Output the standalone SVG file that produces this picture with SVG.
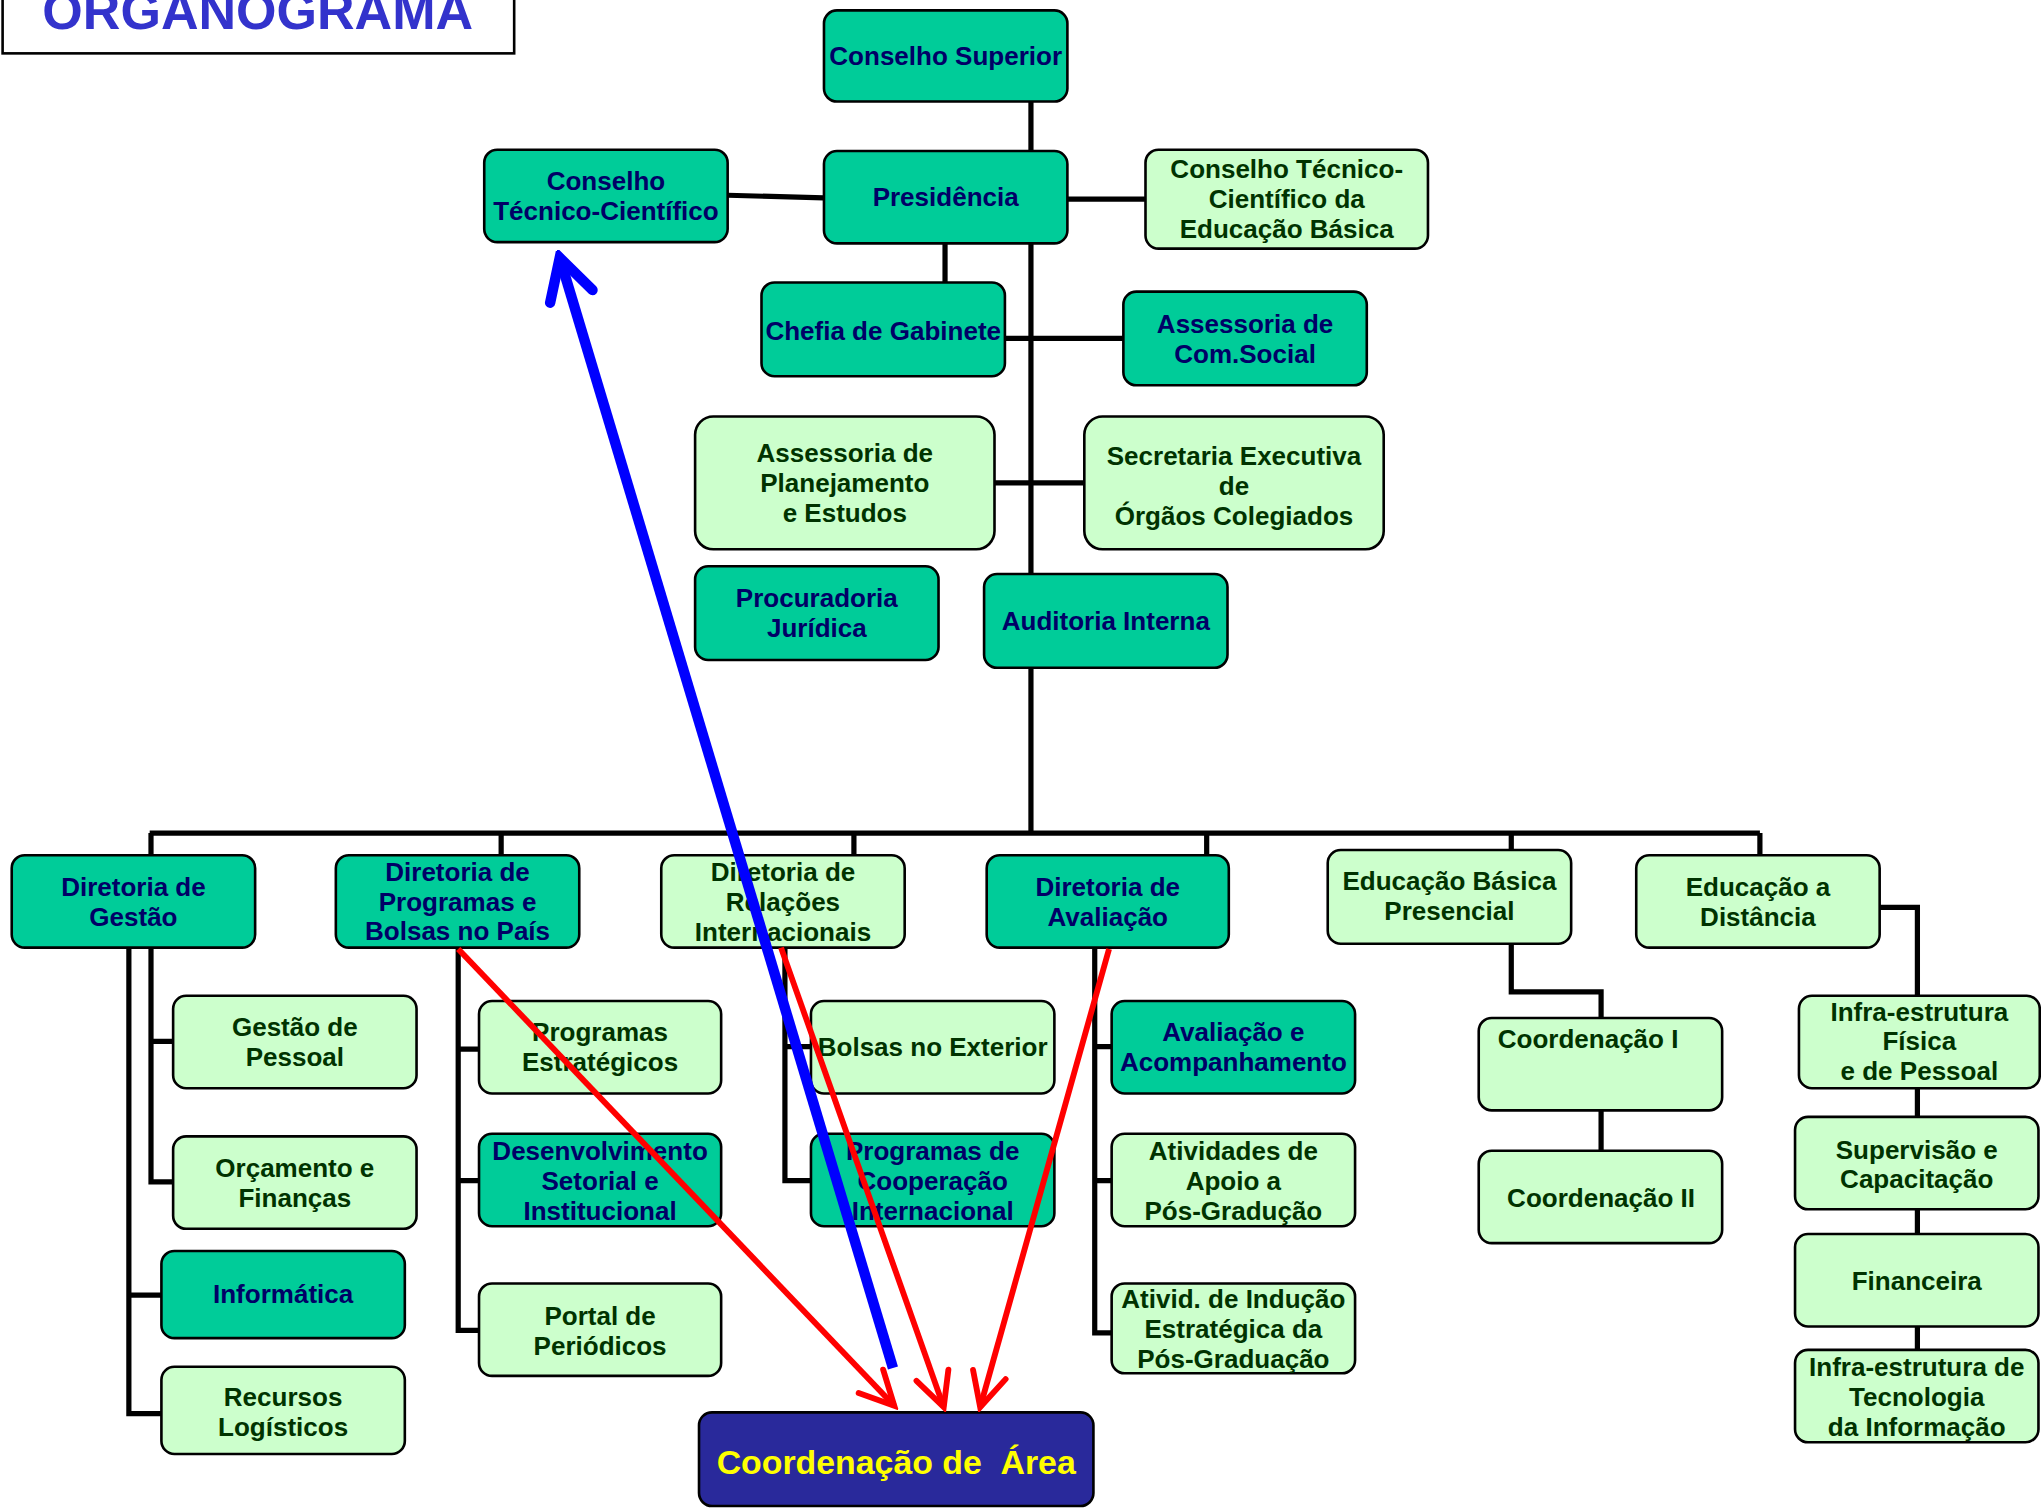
<svg xmlns="http://www.w3.org/2000/svg" width="2041" height="1508" viewBox="0 0 2041 1508">
<style>
text{font-family:"Liberation Sans",Arial,sans-serif;font-weight:bold;font-size:20px;text-anchor:middle}
.d rect{fill:#00cc99;stroke:#000;stroke-width:2}
.d text{fill:#000066}
.l rect{fill:#ccffcc;stroke:#000;stroke-width:2}
.l text{fill:#003300}
#connectors path{fill:none;stroke:#000;stroke-width:4}
.red{fill:none;stroke:#ff0000;stroke-width:4.5}
.blue{fill:none;stroke:#0000ff;stroke-width:8}
</style>
<defs>
<marker id="arR" viewBox="-32 -20 36 40" refX="0" refY="0" markerWidth="36" markerHeight="40" markerUnits="userSpaceOnUse" orient="auto">
<path d="M-26 -13 L0 0 L-26 13" fill="none" stroke="#ff0000" stroke-width="4.5" stroke-linecap="round"/>
</marker>
<marker id="arB" viewBox="-40 -26 46 52" refX="0" refY="0" markerWidth="46" markerHeight="52" markerUnits="userSpaceOnUse" orient="auto">
<path d="M-31 -17 L0 0 L-31 17" fill="none" stroke="#0000ff" stroke-width="8" stroke-linecap="round"/>
</marker>
</defs>
<rect width="2041" height="1508" fill="#fff"/>
<g transform="scale(1.3017)">
<g id="title">
<rect x="2" y="-30" width="393" height="71" fill="#fff" stroke="#000" stroke-width="2"/>
<text x="198" y="22" style="font-size:40px;fill:#3333cc">ORGANOGRAMA</text>
</g>
<g id="connectors">
<path d="M792 78V640"/>
<path d="M559 150L633 152"/>
<path d="M820 153H880"/>
<path d="M726 187V217"/>
<path d="M772 260H863"/>
<path d="M764 371H833"/>
<path d="M115 640H1352"/>
<path d="M116 640V908H133M116 800H133"/>
<path d="M99 728V1086H124M99 995H124"/>
<path d="M385 640V657M352 728V1022H368M352 806H368M352 907H368"/>
<path d="M656 640V657M603 728V907H623M603 804H623"/>
<path d="M927 640V657M841 728V1024H854M841 804H854M841 907H854"/>
<path d="M1161 640V653M1161 725V762H1230V782M1230 853V884"/>
<path d="M1352 640V657M1444 697H1473V765M1473 836V858M1473 929V948M1473 1019V1037"/>
</g>
<g id="n1" class="d"><rect x="633" y="8" width="187" height="70" rx="10"/><text x="726.5" y="50">Conselho Superior</text></g>
<g id="n2" class="d"><rect x="633" y="116" width="187" height="71" rx="10"/><text x="726.5" y="158">Presidência</text></g>
<g id="n3" class="d"><rect x="372" y="115" width="187" height="71" rx="10"/><text><tspan x="465.5" y="146">Conselho</tspan><tspan x="465.5" y="169">Técnico-Científico</tspan></text></g>
<g id="n4" class="l"><rect x="880" y="115" width="217" height="76" rx="10"/><text><tspan x="988.5" y="137">Conselho Técnico-</tspan><tspan x="988.5" y="160">Científico da</tspan><tspan x="988.5" y="183">Educação Básica</tspan></text></g>
<g id="n5" class="d"><rect x="585" y="217" width="187" height="72" rx="10"/><text x="678.5" y="261">Chefia de Gabinete</text></g>
<g id="n6" class="d"><rect x="863" y="224" width="187" height="72" rx="10"/><text><tspan x="956.5" y="256">Assessoria de</tspan><tspan x="956.5" y="279">Com.Social</tspan></text></g>
<g id="n7" class="l"><rect x="534" y="320" width="230" height="102" rx="14"/><text><tspan x="649" y="355">Assessoria de</tspan><tspan x="649" y="378">Planejamento</tspan><tspan x="649" y="401">e Estudos</tspan></text></g>
<g id="n8" class="l"><rect x="833" y="320" width="230" height="102" rx="14"/><text><tspan x="948" y="357">Secretaria Executiva</tspan><tspan x="948" y="380">de</tspan><tspan x="948" y="403">Órgãos Colegiados</tspan></text></g>
<g id="n9" class="d"><rect x="534" y="435" width="187" height="72" rx="10"/><text><tspan x="627.5" y="466">Procuradoria</tspan><tspan x="627.5" y="489">Jurídica</tspan></text></g>
<g id="n10" class="d"><rect x="756" y="441" width="187" height="72" rx="10"/><text x="849.5" y="484">Auditoria Interna</text></g>
<g id="n11" class="d"><rect x="9" y="657" width="187" height="71" rx="10"/><text><tspan x="102.5" y="688">Diretoria de</tspan><tspan x="102.5" y="711">Gestão</tspan></text></g>
<g id="n12" class="d"><rect x="258" y="657" width="187" height="71" rx="10"/><text><tspan x="351.5" y="677">Diretoria de</tspan><tspan x="351.5" y="700">Programas e</tspan><tspan x="351.5" y="722">Bolsas no País</tspan></text></g>
<g id="n13" class="l"><rect x="508" y="657" width="187" height="71" rx="10"/><text><tspan x="601.5" y="677">Diretoria de</tspan><tspan x="601.5" y="700">Relações</tspan><tspan x="601.5" y="723">Internacionais</tspan></text></g>
<g id="n14" class="d"><rect x="758" y="657" width="186" height="71" rx="10"/><text><tspan x="851" y="688">Diretoria de</tspan><tspan x="851" y="711">Avaliação</tspan></text></g>
<g id="n15" class="l"><rect x="1020" y="653" width="187" height="72" rx="10"/><text><tspan x="1113.5" y="684">Educação Básica</tspan><tspan x="1113.5" y="707">Presencial</tspan></text></g>
<g id="n16" class="l"><rect x="1257" y="657" width="187" height="71" rx="10"/><text><tspan x="1350.5" y="688">Educação a</tspan><tspan x="1350.5" y="711">Distância</tspan></text></g>
<g id="n17" class="l"><rect x="133" y="765" width="187" height="71" rx="10"/><text><tspan x="226.5" y="796">Gestão de</tspan><tspan x="226.5" y="819">Pessoal</tspan></text></g>
<g id="n18" class="l"><rect x="133" y="873" width="187" height="71" rx="10"/><text><tspan x="226.5" y="904">Orçamento e</tspan><tspan x="226.5" y="927">Finanças</tspan></text></g>
<g id="n19" class="d"><rect x="124" y="961" width="187" height="67" rx="10"/><text x="217.5" y="1001">Informática</text></g>
<g id="n20" class="l"><rect x="124" y="1050" width="187" height="67" rx="10"/><text><tspan x="217.5" y="1080">Recursos</tspan><tspan x="217.5" y="1103">Logísticos</tspan></text></g>
<g id="n21" class="l"><rect x="368" y="769" width="186" height="71" rx="10"/><text><tspan x="461" y="800">Programas</tspan><tspan x="461" y="823">Estratégicos</tspan></text></g>
<g id="n22" class="d"><rect x="368" y="871" width="186" height="71" rx="10"/><text><tspan x="461" y="891">Desenvolvimento</tspan><tspan x="461" y="914">Setorial e</tspan><tspan x="461" y="937">Institucional</tspan></text></g>
<g id="n23" class="l"><rect x="368" y="986" width="186" height="71" rx="10"/><text><tspan x="461" y="1018">Portal de</tspan><tspan x="461" y="1041">Periódicos</tspan></text></g>
<g id="n24" class="l"><rect x="623" y="769" width="187" height="71" rx="10"/><text x="716.5" y="811">Bolsas no Exterior</text></g>
<g id="n25" class="d"><rect x="623" y="871" width="187" height="71" rx="10"/><text><tspan x="716.5" y="891">Programas de</tspan><tspan x="716.5" y="914">Cooperação</tspan><tspan x="716.5" y="937">Internacional</tspan></text></g>
<g id="n26" class="d"><rect x="854" y="769" width="187" height="71" rx="10"/><text><tspan x="947.5" y="800">Avaliação e</tspan><tspan x="947.5" y="823">Acompanhamento</tspan></text></g>
<g id="n27" class="l"><rect x="854" y="871" width="187" height="71" rx="10"/><text><tspan x="947.5" y="891">Atividades de</tspan><tspan x="947.5" y="914">Apoio a</tspan><tspan x="947.5" y="937">Pós-Gradução</tspan></text></g>
<g id="n28" class="l"><rect x="854" y="986" width="187" height="69" rx="10"/><text><tspan x="947.5" y="1005">Ativid. de Indução</tspan><tspan x="947.5" y="1028">Estratégica da</tspan><tspan x="947.5" y="1051">Pós-Graduação</tspan></text></g>
<g id="n29" class="l"><rect x="1136" y="782" width="187" height="71" rx="10"/><text x="1220" y="805">Coordenação I</text></g>
<g id="n30" class="l"><rect x="1136" y="884" width="187" height="71" rx="10"/><text x="1230" y="927">Coordenação II</text></g>
<g id="n31" class="l"><rect x="1382" y="765" width="185" height="71" rx="10"/><text><tspan x="1474.5" y="784">Infra-estrutura</tspan><tspan x="1474.5" y="807">Física</tspan><tspan x="1474.5" y="830">e de Pessoal</tspan></text></g>
<g id="n32" class="l"><rect x="1379" y="858" width="187" height="71" rx="10"/><text><tspan x="1472.5" y="890">Supervisão e</tspan><tspan x="1472.5" y="913">Capacitação</tspan></text></g>
<g id="n33" class="l"><rect x="1379" y="948" width="187" height="71" rx="10"/><text x="1472.5" y="991">Financeira</text></g>
<g id="n34" class="l"><rect x="1379" y="1037" width="187" height="71" rx="10"/><text><tspan x="1472.5" y="1057">Infra-estrutura de</tspan><tspan x="1472.5" y="1080">Tecnologia</tspan><tspan x="1472.5" y="1103">da Informação</tspan></text></g>
<g id="n35"><rect x="537" y="1085" width="303" height="72" rx="10" fill="#29299b" stroke="#000" stroke-width="2"/><text x="688.5" y="1132" style="font-size:26px;fill:#ffff00;white-space:pre">Coordenação de  Área</text></g>
<g id="arrows">
<path class="red" d="M352 729L687 1080" marker-end="url(#arR)"/>
<path class="red" d="M600 728L725 1081" marker-end="url(#arR)"/>
<path class="red" d="M852 729L753 1081" marker-end="url(#arR)"/>
<path class="blue" d="M686 1051L430 198" marker-end="url(#arB)"/>
</g>
</g>
</svg>
